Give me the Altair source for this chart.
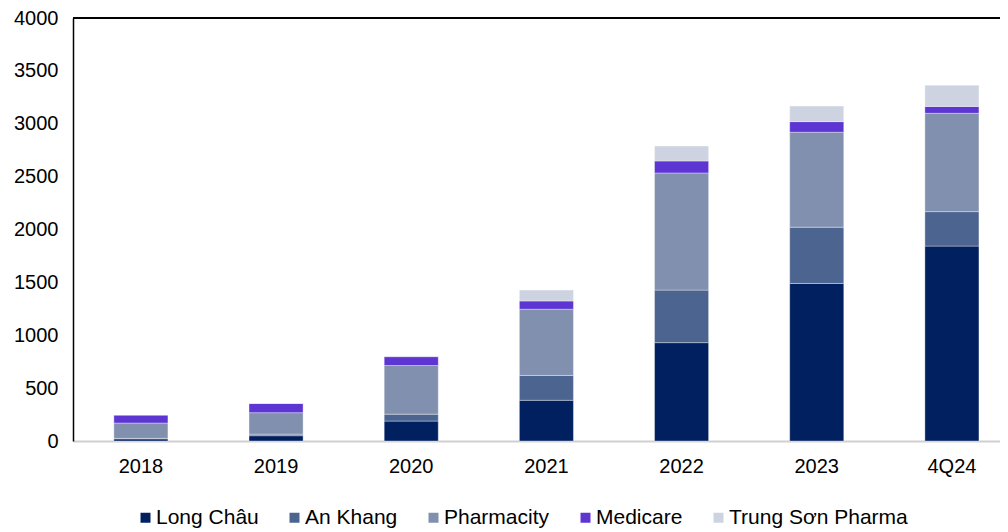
import altair as alt
import pandas as pd

years = ["2018", "2019", "2020", "2021", "2022", "2023", "4Q24"]
chains = ["Long Châu", "An Khang", "Pharmacity", "Medicare", "Trung Sơn Pharma"]
colors = ["#00205F", "#4C6490", "#8190AE", "#5C35D2", "#CDD3E0"]

long_chau = [20, 50, 188, 385, 930, 1490, 1843]
an_khang = [5, 15, 66, 235, 497, 532, 326]
pharmacity = [145, 203, 460, 626, 1108, 898, 930]
medicare = [75, 87, 84, 78, 113, 100, 65]
trung_son = [0, 0, 0, 103, 141, 147, 201]

series = [long_chau, an_khang, pharmacity, medicare, trung_son]
rows = []
for ci, (name, vals) in enumerate(zip(chains, series)):
    for y, v in zip(years, vals):
        rows.append({"year": y, "chain": name, "stores": v, "order": ci})
df = pd.DataFrame(rows)

W, H = 927, 423
FONT = "Liberation Sans"
FS = 20

bars = alt.Chart(df).mark_bar(stroke="white", strokeWidth=0.6, strokeOpacity=0.6).encode(
    x=alt.X("year:N", sort=years, title=None,
            scale=alt.Scale(paddingInner=0.6, paddingOuter=0.229, align=0.66),
            axis=alt.Axis(labelAngle=0, ticks=False, labelPadding=15, labelFontSize=FS,
                          labelColor="#000000", labelFont=FONT,
                          domainColor="#D0D0D0", domainWidth=2)),
    y=alt.Y("stores:Q", title=None,
            scale=alt.Scale(domain=[0, 4000], nice=False),
            axis=alt.Axis(values=list(range(0, 4001, 500)), format="d", grid=False, ticks=False,
                          labelPadding=15, labelFontSize=FS, labelColor="#000000",
                          labelFont=FONT, domainColor="#000000", domainWidth=1.5)),
    color=alt.Color("chain:N", scale=alt.Scale(domain=chains, range=colors),
                    legend=alt.Legend(title=None, orient="none", direction="horizontal",
                                      legendX=62, legendY=489, symbolType="square",
                                      symbolSize=100, symbolStrokeWidth=0,
                                      labelFontSize=21, labelFont=FONT, labelColor="#000000",
                                      labelOffset=0, columnPadding=25, labelLimit=300)),
    order=alt.Order("order:Q", sort="ascending"),
)

top_line = alt.Chart(pd.DataFrame({"a": [0]})).mark_rule(color="#000000", strokeWidth=2).encode(
    x=alt.value(0), x2=alt.value(W + 10), y=alt.value(0)
)

chart = alt.layer(bars, top_line).properties(
    width=W, height=H,
    autosize=alt.AutoSizeParams(type="none"),
    padding={"left": 65, "top": 10, "right": 0, "bottom": 90},
).configure_view(stroke=None)

chart.save("out.html", embed_options={"renderer": "svg", "actions": False})
